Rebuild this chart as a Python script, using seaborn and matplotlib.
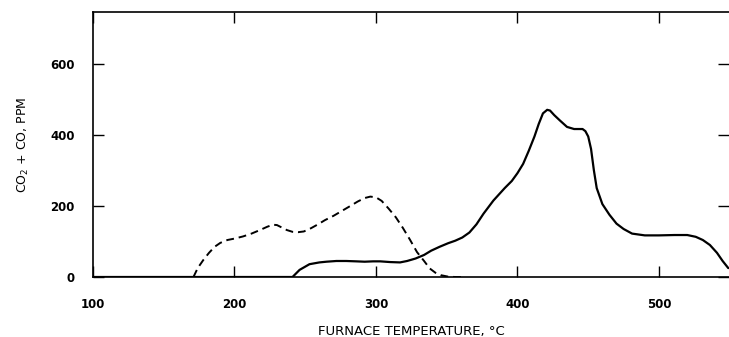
import matplotlib
matplotlib.use("Agg")
import matplotlib.pyplot as plt
import seaborn as sns
import pandas as pd

# Solid curve (furnace temperature, °C vs CO2 + CO, ppm)
solid_temp = [100, 150, 200, 241, 246, 253, 260, 265, 272, 279, 286, 292, 298, 303, 310,
              317, 322, 328, 334, 339, 345, 351, 356, 361, 366, 371, 376, 383, 391, 396,
              400, 404, 408, 412, 415, 418, 421, 423, 426, 430, 435, 440, 446, 448, 450,
              452, 454, 456, 460, 465, 470, 475, 481, 490, 500, 511, 520, 526, 531, 536,
              541, 545, 549]
solid_ppm = [0, 0, 0, 0, 20, 36, 41, 43, 45, 45, 44, 43, 44, 44, 42,
             41, 45, 52, 62, 74, 85, 95, 102, 111, 125, 148, 178, 215, 250, 270,
             292, 318, 355, 395, 430, 460, 470, 468, 455, 440, 422, 416, 416, 410, 395,
             360, 300, 250, 205, 175, 150, 135, 122, 117, 117, 118, 118, 113, 104, 90,
             68, 45, 25]

# Dashed curve
dashed_temp = [171, 174, 178, 182, 186, 190, 195, 200, 206, 212, 218, 223, 227, 230,
               233, 237, 241, 245, 249, 254, 259, 264, 270, 276, 282, 287, 292, 296,
               300, 304, 309, 314, 319, 324, 329, 334, 338, 342, 346, 351, 356, 362]
dashed_ppm = [0, 25, 48, 68, 85, 96, 104, 108, 114, 122, 132, 141, 147, 146,
              140, 132, 127, 126, 128, 137, 148, 160, 172, 186, 200, 212, 222, 226,
              224, 214, 192, 168, 138, 105, 70, 45, 24, 12, 5, 1, 0, 0]

x_ticks = [100, 200, 300, 400, 500]
y_ticks = [0, 200, 400, 600]

solid_df = pd.DataFrame({"temp": solid_temp, "ppm": solid_ppm})
dashed_df = pd.DataFrame({"temp": dashed_temp, "ppm": dashed_ppm})

sns.set_style("ticks")
plt.rcParams["font.family"] = ["DejaVu Sans"]
plt.rcParams["text.color"] = "black"
plt.rcParams["axes.labelcolor"] = "black"

fig = plt.figure(figsize=(7.29, 3.37), dpi=100)
ax = fig.add_axes([93 / 729, 1 - 277 / 337, 1 - 93 / 729, (277 - 12) / 337])

sns.lineplot(data=solid_df, x="temp", y="ppm", ax=ax, color="black", linewidth=1.6,
             sort=False, estimator=None)
sns.lineplot(data=dashed_df, x="temp", y="ppm", ax=ax, color="black", linewidth=1.4,
             sort=False, estimator=None, dashes=False)
ax.lines[-1].set_dashes((4, 2.5))

ax.set_xlim(100, 549.5)
ax.set_ylim(0, 745)
ax.set_xticks(x_ticks)
ax.set_yticks(y_ticks)
ax.set_xticklabels([str(t) for t in x_ticks], fontsize=8.5, fontweight="bold")
ax.set_yticklabels([str(t) for t in y_ticks], fontsize=8.5, fontweight="bold")
ax.tick_params(axis="both", direction="in", length=8, width=1, top=True, right=True,
               colors="black", labelcolor="black")
ax.tick_params(axis="x", pad=15)
ax.tick_params(axis="y", pad=13)

for side in ["left", "top", "bottom"]:
    ax.spines[side].set_visible(True)
    ax.spines[side].set_color("black")
    ax.spines[side].set_linewidth(1.2)
ax.spines["right"].set_visible(False)

ax.set_xlabel("FURNACE TEMPERATURE, °C", fontsize=9.5, labelpad=10, color="black")
ax.set_ylabel(r"CO$_2$ + CO, PPM", fontsize=9, labelpad=14, color="black")

fig.savefig("out.png", dpi=100)
